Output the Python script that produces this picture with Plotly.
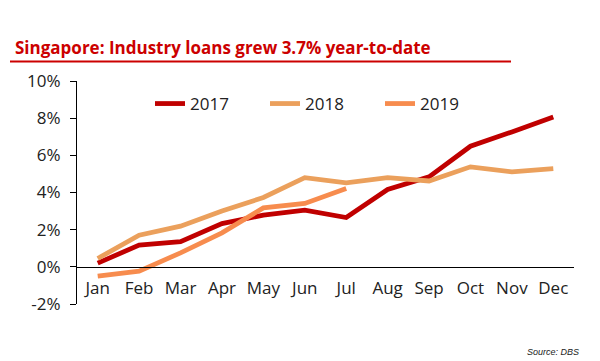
import plotly.graph_objects as go

months = ["Jan", "Feb", "Mar", "Apr", "May", "Jun", "Jul", "Aug", "Sep", "Oct", "Nov", "Dec"]
y2017 = [0.2, 1.17, 1.35, 2.33, 2.78, 3.05, 2.65, 4.16, 4.84, 6.49, 7.26, 8.06]
y2018 = [0.45, 1.7, 2.19, 3.01, 3.73, 4.8, 4.52, 4.8, 4.62, 5.38, 5.11, 5.29]
y2019 = [-0.5, -0.23, 0.75, 1.83, 3.17, 3.41, 4.21]
y_ticks = [-2, 0, 2, 4, 6, 8, 10]
y_tick_labels = ["-2%", "0%", "2%", "4%", "6%", "8%", "10%"]

series = [("2017", y2017, "#C00000"), ("2018", y2018, "#EBA05C"), ("2019", y2019, "#F78C4E")]

fig = go.Figure()
for name, vals, col in series:
    fig.add_trace(go.Scatter(x=months[:len(vals)], y=vals, name=name, mode="lines",
                             line=dict(color=col, width=4.8)))

# page has an 8px body margin; figure coords = page coords - 8
W, H = 592, 353
L, R, T, B = 69, 26, 73, 57
PW, PH = W - L - R, H - T - B

def px(xf):
    return (xf - L) / PW

def py(yf):
    return 1 - (yf - T) / PH

font_family = "Open Sans, Noto Sans, sans-serif"
fig.update_layout(
    width=W, height=H,
    margin=dict(l=L, r=R, t=T, b=B),
    paper_bgcolor="white", plot_bgcolor="white",
    showlegend=True,
    legend=dict(orientation="h", x=px(142), xanchor="left", y=py(96), yanchor="middle",
                font=dict(family=font_family, size=17, color="#222"),
                entrywidth=70, entrywidthmode="pixels", bgcolor="rgba(0,0,0,0)"),
    font=dict(family=font_family, size=17, color="#222"),
)
fig.update_xaxes(type="category", range=[-0.5, 11.5], anchor="free", position=(2 / 12),
                 showline=True, linecolor="black", linewidth=1.2, showgrid=False,
                 ticks="", tickfont=dict(size=17, color="#222"), ticklabelstandoff=6)
fig.update_yaxes(range=[-2, 10], tickvals=y_ticks, ticktext=y_tick_labels,
                 showline=True, linecolor="black", linewidth=1.2, showgrid=False, zeroline=False,
                 ticks="outside", ticklen=6, tickcolor="black", tickfont=dict(size=17, color="#222"),
                 ticklabelstandoff=6)

fig.add_annotation(text="<b>Singapore: Industry loans grew 3.7% year-to-date</b>", xref="paper", yref="paper",
                   x=px(5), y=py(39), xanchor="left", yanchor="middle", showarrow=False,
                   font=dict(family=font_family, size=17, color="#CC0000"))
fig.add_shape(type="line", xref="paper", yref="paper", x0=px(2), x1=px(503),
              y0=py(53.5), y1=py(53.5), line=dict(color="#CC0000", width=2.2))
fig.add_annotation(text="<i>Source: DBS</i>", xref="paper", yref="paper",
                   x=px(573), y=py(344), xanchor="right", yanchor="middle", showarrow=False,
                   font=dict(family="Liberation Sans, Arial, sans-serif", size=9, color="#222"))

fig.write_html("out.html")
